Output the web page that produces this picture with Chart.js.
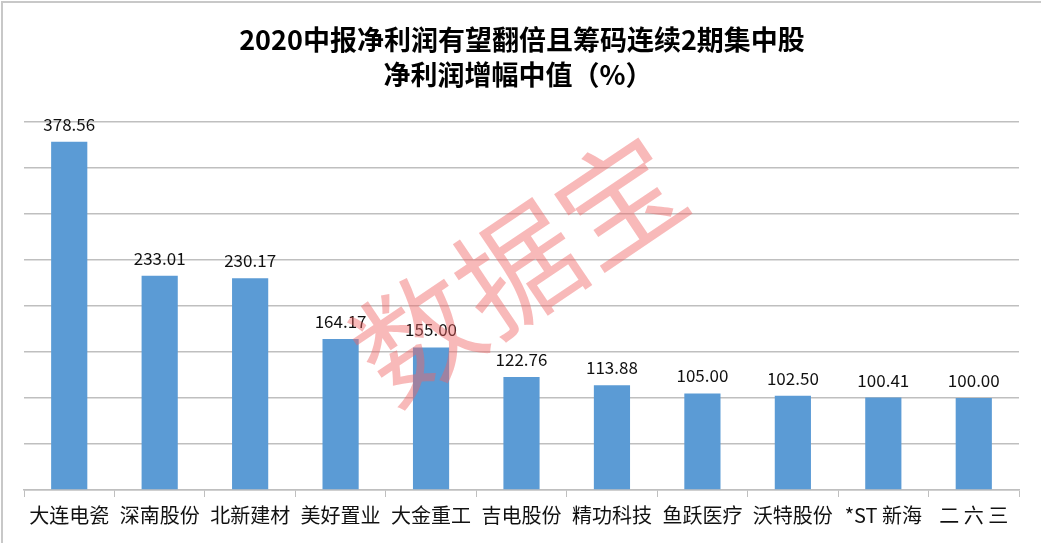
<!DOCTYPE html>
<html>
<head>
<meta charset="utf-8">
<script src="https://cdn.jsdelivr.net/npm/chart.js@4"></script>
<style>
html,body{margin:0;padding:0;background:#fff;}
#wrap{width:1041px;height:543px;position:relative;}
</style>
</head>
<body>
<div id="wrap"><canvas id="chart" width="1041" height="543"></canvas></div>
<script>
const stocks = ["大连电瓷","深南股份","北新建材","美好置业","大金重工","吉电股份","精功科技","鱼跃医疗","沃特股份","*ST 新海","二 六 三"];
const growth = [378.56,233.01,230.17,164.17,155.00,122.76,113.88,105.00,102.50,100.41,100.00];
const titleLines = ["2020中报净利润有望翻倍且筹码连续2期集中股","净利润增幅中值（%）"];
const watermark = "数据宝";

const cjk = '"Noto Sans CJK SC", "Noto Sans", sans-serif';

// frame + title + watermark + value labels
const decor = {
  id: "decor",
  beforeDraw(chart){
    const ctx = chart.ctx;
    ctx.save();
    ctx.fillStyle = "#fff";
    ctx.fillRect(0,0,chart.width,chart.height);
    ctx.strokeStyle = "#c8c8c8";
    ctx.lineWidth = 2;
    ctx.beginPath();
    ctx.moveTo(2,chart.height);
    ctx.lineTo(2,2);
    ctx.lineTo(chart.width,2);
    ctx.stroke();
    ctx.fillStyle = "#000";
    ctx.textAlign = "center";
    ctx.textBaseline = "middle";
    ctx.font = "bold 27px " + cjk;
    ctx.fillText(titleLines[0], 522, 40);
    ctx.fillText(titleLines[1], 518, 75);
    ctx.restore();
  },
  afterDatasetsDraw(chart){
    const ctx = chart.ctx;
    const meta = chart.getDatasetMeta(0);
    ctx.save();
    ctx.fillStyle = "#111";
    ctx.textAlign = "center";
    ctx.textBaseline = "bottom";
    ctx.font = "17px " + cjk;
    meta.data.forEach((bar,i)=>{
      ctx.fillText(growth[i].toFixed(2), bar.x, bar.y - 9);
    });
    // watermark
    ctx.translate(518, 268);
    ctx.rotate(-34 * Math.PI / 180);
    ctx.fillStyle = "rgba(240,100,100,0.45)";
    ctx.font = "400 122px " + cjk;
    ctx.textBaseline = "middle";
    ctx.fillText(watermark, 0, 0);
    ctx.restore();
  }
};

new Chart(document.getElementById("chart"),{
  type:"bar",
  data:{
    labels:stocks,
    datasets:[{
      data:growth,
      backgroundColor:"#5b9bd5",
      barPercentage:0.4,
      categoryPercentage:1
    }]
  },
  options:{
    responsive:false,
    animation:false,
    layout:{padding:{left:24,right:22,top:122,bottom:10}},
    plugins:{legend:{display:false},tooltip:{enabled:false},title:{display:false}},
    scales:{
      y:{
        min:0,max:400,
        ticks:{display:false,stepSize:50},
        grid:{color:"#bfbfbf",lineWidth:1.5,drawTicks:false},
        border:{display:false}
      },
      x:{
        offset:true,
        grid:{offset:true,drawOnChartArea:false,color:"#bfbfbf",tickLength:7},
        border:{color:"#bfbfbf",width:1.5},
        ticks:{color:"#111",font:{family:cjk,size:20},padding:6,maxRotation:0,autoSkip:false}
      }
    }
  },
  plugins:[decor]
});
</script>
</body>
</html>
